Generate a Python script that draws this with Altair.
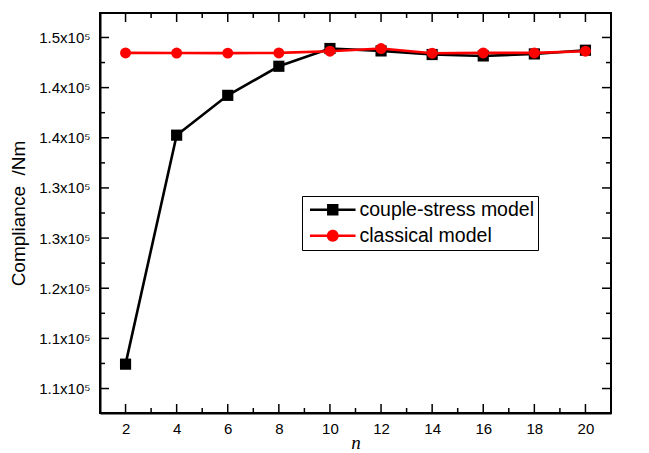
import altair as alt
import pandas as pd

# ---- data ----
n_values = [2, 4, 6, 8, 10, 12, 14, 16, 18, 20]
couple_stress = [112430, 135260, 139230, 142130, 143900, 143660, 143300, 143160, 143360, 143730]
classical = [143460, 143450, 143440, 143460, 143630, 143900, 143430, 143460, 143460, 143630]
series_names = ["couple-stress model", "classical model"]
series_colors = ["#000000", "#ff0000"]

x_tick_values = [2, 4, 6, 8, 10, 12, 14, 16, 18, 20]
x_minor_ticks = [3, 5, 7, 9, 11, 13, 15, 17, 19]
y_tick_values = [110000, 115000, 120000, 125000, 130000, 135000, 140000, 145000]
y_tick_labels = ["1.1x10⁵", "1.1x10⁵", "1.2x10⁵", "1.3x10⁵", "1.3x10⁵", "1.4x10⁵", "1.4x10⁵", "1.5x10⁵"]
y_minor_ticks = [112500, 117500, 122500, 127500, 132500, 137500, 142500]
x_domain = [1, 21]
y_domain = [107560, 147440]

W, H = 511, 400
FONT = "Liberation Sans"

df = pd.DataFrame({
    "n": n_values * 2,
    "value": couple_stress + classical,
    "series": [series_names[0]] * len(n_values) + [series_names[1]] * len(n_values),
})
df_cs = df[df.series == series_names[0]]
df_cl = df[df.series == series_names[1]]

label_expr = " : ".join(
    f"round(datum.value) == {v} ? '{l}'" for v, l in zip(y_tick_values, y_tick_labels)
) + " : ''"

xs = alt.Scale(domain=x_domain, nice=False, zero=False)
ys = alt.Scale(domain=y_domain, nice=False, zero=False)
x_axis = alt.Axis(values=x_tick_values, format="d", ticks=False, grid=False,
                  labelPadding=8, title="n", titlePadding=-3)
y_axis = alt.Axis(values=y_tick_values, labelExpr=label_expr, ticks=False, grid=False,
                  labelPadding=10, title="Compliance\u00a0 /Nm", titlePadding=10)


def X(field="n"):
    return alt.X(f"{field}:Q", scale=xs, axis=x_axis)


def Y(field="value"):
    return alt.Y(f"{field}:Q", scale=ys, axis=y_axis)


line_cs = alt.Chart(df_cs).mark_line(color="#000000", strokeWidth=2.6).encode(x=X(), y=Y())
pts_cs = alt.Chart(df_cs).mark_point(shape="square", filled=True, size=125, color="#000000",
                                     opacity=1).encode(x=X(), y=Y())
line_cl = alt.Chart(df_cl).mark_line(color="#ff0000", strokeWidth=2.6).encode(x=X(), y=Y())
pts_cl = alt.Chart(df_cl).mark_point(shape="circle", filled=True, size=120, color="#ff0000",
                                     opacity=1).encode(x=X(), y=Y())

# legend (symbols = line + marker)
path_sq = "M-4,-0.22H4V0.22H-4Z M-1,-1H1V1H-1Z"
path_ci = "M-4,-0.22H4V0.22H-4Z M1.05,0A1.05,1.05 0 1 1 -1.05,0A1.05,1.05 0 1 1 1.05,0Z"
leg = alt.Legend(title=None, orient="none", legendX=202, legendY=183,
                 labelFont=FONT, labelFontSize=19.5, labelColor="black", labelLimit=0,
                 symbolSize=130, symbolOffset=17, labelOffset=17, symbolStrokeWidth=0,
                 symbolOpacity=1, rowPadding=5, padding=4,
                 fillColor="white", strokeColor="black")
legend_layer = alt.Chart(df).transform_filter("datum.n < 0").mark_point(filled=True).encode(
    x=X(), y=Y(),
    color=alt.Color("series:N", scale=alt.Scale(domain=series_names, range=series_colors), legend=leg),
    shape=alt.Shape("series:N", scale=alt.Scale(domain=series_names, range=[path_sq, path_ci]), legend=leg),
)

# inward ticks
xt_major = pd.DataFrame({"n": x_tick_values})
xt_minor = pd.DataFrame({"n": x_minor_ticks})
yt_major = pd.DataFrame({"value": y_tick_values})
yt_minor = pd.DataFrame({"value": y_minor_ticks})
tick_layers = []
for d, ln in ((xt_major, 9), (xt_minor, 5)):
    tick_layers.append(alt.Chart(d).mark_rule(color="black", strokeWidth=1.5).encode(
        x=X(), y=alt.value(H), y2=alt.value(H - ln)))
    tick_layers.append(alt.Chart(d).mark_rule(color="black", strokeWidth=1.5).encode(
        x=X(), y=alt.value(0), y2=alt.value(ln)))
for d, ln in ((yt_major, 9), (yt_minor, 5)):
    tick_layers.append(alt.Chart(d).mark_rule(color="black", strokeWidth=1.5).encode(
        y=Y(), x=alt.value(0), x2=alt.value(ln)))
    tick_layers.append(alt.Chart(d).mark_rule(color="black", strokeWidth=1.5).encode(
        y=Y(), x=alt.value(W - ln), x2=alt.value(W)))

chart = alt.layer(
    *tick_layers, line_cs, pts_cs, line_cl, pts_cl, legend_layer
).properties(
    width=W, height=H,
    autosize=alt.AutoSizeParams(type="none"),
    padding={"left": 92, "top": 5, "right": 30, "bottom": 40},
).configure_view(
    stroke="black", strokeWidth=2
).configure_axis(
    labelFont=FONT, labelFontSize=15, labelColor="black",
    domainColor="black", domainWidth=2,
    titleFont=FONT, titleFontSize=19, titleColor="black", titleFontWeight="normal",
).configure_axisX(
    titleFont="Liberation Serif", titleFontStyle="italic", titleFontSize=19,
)

chart.save("out.html", embed_options={"renderer": "svg", "actions": False})
